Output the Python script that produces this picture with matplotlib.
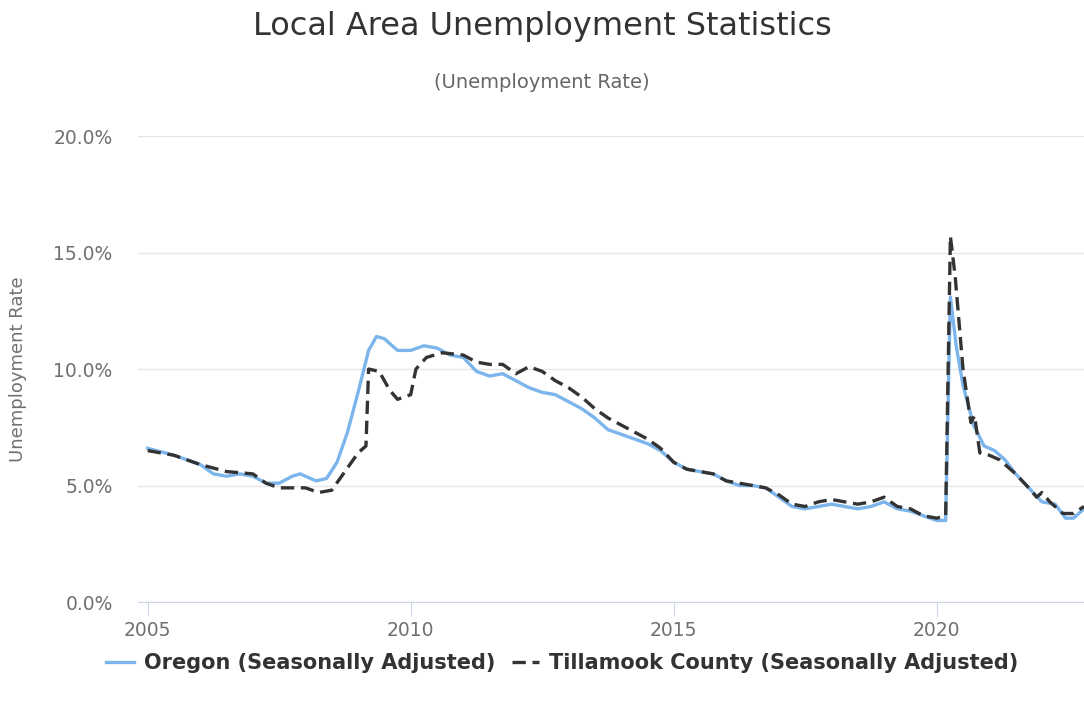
import matplotlib.pyplot as plt

plt.rcParams['font.family'] = ['DejaVu Sans']

# data (decimal years, %)
or_year = [2005.0, 2005.5, 2006.0, 2006.25, 2006.5, 2006.75, 2007.0, 2007.25, 2007.5, 2007.75,
           2007.9, 2008.2, 2008.4, 2008.6, 2008.8, 2009.0, 2009.2, 2009.35, 2009.5, 2009.75,
           2010.0, 2010.25, 2010.5, 2010.75, 2011.0, 2011.25, 2011.5, 2011.75, 2012.0, 2012.25,
           2012.5, 2012.75, 2013.0, 2013.25, 2013.5, 2013.75, 2014.0, 2014.25, 2014.5, 2014.75,
           2015.0, 2015.25, 2015.5, 2015.75, 2016.0, 2016.25, 2016.5, 2016.75, 2017.0, 2017.25,
           2017.5, 2017.75, 2018.0, 2018.25, 2018.5, 2018.75, 2019.0, 2019.25, 2019.5, 2019.75,
           2020.0, 2020.17, 2020.26, 2020.37, 2020.5, 2020.7, 2020.9, 2021.1, 2021.3, 2021.5,
           2021.75, 2022.0, 2022.25, 2022.45, 2022.6, 2022.8]
or_rate = [6.6, 6.3, 5.9, 5.5, 5.4, 5.5, 5.4, 5.1, 5.1, 5.4,
           5.5, 5.2, 5.3, 6.0, 7.3, 9.0, 10.8, 11.4, 11.3, 10.8,
           10.8, 11.0, 10.9, 10.6, 10.5, 9.9, 9.7, 9.8, 9.5, 9.2,
           9.0, 8.9, 8.6, 8.3, 7.9, 7.4, 7.2, 7.0, 6.8, 6.5,
           6.0, 5.7, 5.6, 5.5, 5.2, 5.0, 5.0, 4.9, 4.5, 4.1,
           4.0, 4.1, 4.2, 4.1, 4.0, 4.1, 4.3, 4.0, 3.9, 3.7,
           3.5, 3.5, 13.1, 11.0, 9.3, 7.6, 6.7, 6.5, 6.1, 5.5,
           4.9, 4.3, 4.2, 3.6, 3.6, 4.0]

ti_year = [2005.0, 2005.5, 2006.0, 2006.5, 2007.0, 2007.25, 2007.5, 2008.0, 2008.25, 2008.5,
           2008.75, 2009.0, 2009.15, 2009.2, 2009.4, 2009.6, 2009.75, 2010.0, 2010.1, 2010.3,
           2010.6, 2011.0, 2011.25, 2011.5, 2011.75, 2012.0, 2012.25, 2012.5, 2012.75, 2013.0,
           2013.25, 2013.5, 2013.75, 2014.0, 2014.25, 2014.5, 2014.75, 2015.0, 2015.25, 2015.5,
           2015.75, 2016.0, 2016.25, 2016.5, 2016.75, 2017.0, 2017.25, 2017.5, 2017.75, 2018.0,
           2018.25, 2018.5, 2018.75, 2019.0, 2019.25, 2019.5, 2019.75, 2020.0, 2020.17, 2020.26,
           2020.35, 2020.5, 2020.65, 2020.72, 2020.82, 2021.0, 2021.2, 2021.5, 2021.75, 2021.9,
           2022.0, 2022.15, 2022.4, 2022.6, 2022.8]
ti_rate = [6.5, 6.3, 5.9, 5.6, 5.5, 5.1, 4.9, 4.9, 4.7, 4.8,
           5.6, 6.4, 6.7, 10.0, 9.9, 9.1, 8.7, 8.9, 10.0, 10.5,
           10.7, 10.6, 10.3, 10.2, 10.2, 9.8, 10.1, 9.9, 9.5, 9.2,
           8.8, 8.3, 7.9, 7.6, 7.3, 7.0, 6.6, 6.0, 5.7, 5.6,
           5.5, 5.2, 5.1, 5.0, 4.9, 4.6, 4.2, 4.1, 4.3, 4.4,
           4.3, 4.2, 4.3, 4.5, 4.1, 4.0, 3.7, 3.6, 3.7, 15.7,
           14.0, 10.0, 7.7, 8.0, 6.4, 6.3, 6.1, 5.5, 4.9, 4.5,
           4.7, 4.3, 3.8, 3.8, 4.1]

labels = ['Oregon (Seasonally Adjusted)', 'Tillamook County (Seasonally Adjusted)']
yticks = [0, 5, 10, 15, 20]
xticks = [2005, 2010, 2015, 2020]

fig = plt.figure(figsize=(10.84, 7.07), dpi=100)
ax = fig.add_axes([0.127, 0.1485, 0.873, 0.659])

ax.plot(or_year, or_rate, color='#7cb5ec', lw=2.4, label=labels[0], zorder=3)
ax.plot(ti_year, ti_rate, color='#333333', lw=2.4, ls=(0, (4, 2)), label=labels[1], zorder=4)

ax.set_xlim(2004.81, 2022.8)
ax.set_ylim(0, 20)
ax.set_yticks(yticks)
ax.set_yticklabels(['%.1f%%' % v for v in yticks])
ax.set_xticks(xticks)
ax.grid(axis='y', color='#e6e6e6', lw=1)
ax.set_axisbelow(True)
for s in ['top', 'right', 'left']:
    ax.spines[s].set_visible(False)
ax.spines['bottom'].set_color('#ccd6eb')
ax.tick_params(axis='y', length=0, labelsize=13.5, labelcolor='#707070', pad=18)
ax.tick_params(axis='x', length=10, color='#ccd6eb', labelsize=13.5, labelcolor='#707070', pad=4)
ax.set_ylabel('Unemployment Rate', fontsize=13, color='#707070', labelpad=19)

fig.text(0.5, 0.962, 'Local Area Unemployment Statistics', ha='center', va='center',
         fontsize=23, color='#333333')
fig.text(0.5, 0.884, '(Unemployment Rate)', ha='center', va='center',
         fontsize=14, color='#666666')

leg = fig.legend(loc='center', bbox_to_anchor=(0.519, 0.062), ncol=2, frameon=False,
                 handlelength=1.3, columnspacing=0.8, handletextpad=0.5,
                 prop={'size': 15, 'weight': 'bold'})
for t in leg.get_texts():
    t.set_color('#333333')

fig.savefig('out.png', dpi=100)
